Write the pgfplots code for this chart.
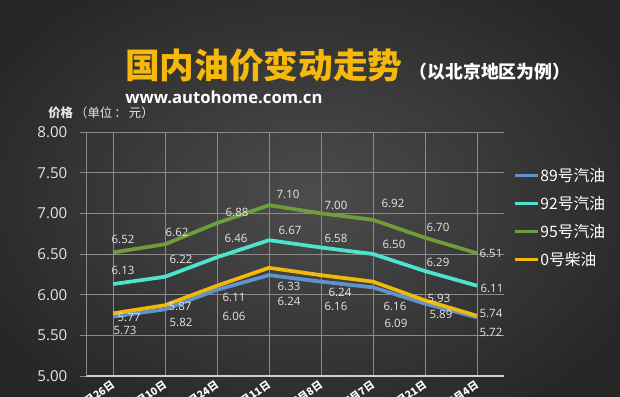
\documentclass[border=0pt]{standalone}
\usepackage{fontspec}
\setmainfont{Open Sans}
\newfontfamily\cjk{Noto Sans CJK SC}
\usepackage{pgfplots}
\pgfplotsset{compat=1.18}
\definecolor{bgin}{HTML}{4C4C4C}
\definecolor{bgout}{HTML}{272727}
\definecolor{c89}{HTML}{5F93CC}
\definecolor{c92}{HTML}{4DE3D0}
\definecolor{c95}{HTML}{6E9E3C}
\definecolor{c0}{HTML}{F2B90C}
\definecolor{ttl}{HTML}{F6B80B}
\definecolor{lbl}{HTML}{E6E6E6}
\definecolor{grd}{HTML}{8A8A8A}
\definecolor{axl}{HTML}{CFCFCF}
\pgfplotsset{
  vlabels/.style={
    line width=2.8pt,
    point meta=y,
    visualization depends on={\thisrow{dx}\as\dx},
    visualization depends on={\thisrow{dy}\as\dy},
    nodes near coords={\pgfmathprintnumber[fixed,fixed zerofill,precision=2]{\pgfplotspointmeta}},
    every node near coord/.append style={anchor=center, inner sep=0pt, text=lbl,
      font=\fontsize{8.6}{9}\selectfont, xshift={\dx*0.75pt}, yshift={\dy*0.75pt}},
  }
}
\begin{document}
\begin{tikzpicture}
\useasboundingbox (0,0) rectangle (465pt,297pt);
\clip (0,0) rectangle (465pt,297pt);
\shade[inner color=bgin, outer color=bgout] (-40pt,-40pt) rectangle (505pt,337pt);
\node[anchor=west, inner sep=0pt, text=ttl] at (93.75pt,248.25pt)
  {\cjk\bfseries\fontsize{26}{26}\selectfont 国内油价变动走势};
\node[anchor=west, inner sep=0pt, text=white] at (307pt,243pt)
  {\cjk\bfseries\fontsize{13.4}{14}\selectfont （以北京地区为例）};
\node[anchor=west, inner sep=0pt, text=white] at (93.75pt,224.25pt)
  {\bfseries\fontsize{12.5}{13}\selectfont www.autohome.com.cn};
\node[anchor=west, inner sep=0pt, text=lbl] at (36pt,212.25pt)
  {\cjk\fontsize{9.3}{10}\selectfont {\bfseries 价格}\,（单位\,：\,元）};
\begin{axis}[
  at={(64.5pt,15pt)}, anchor=south west,
  scale only axis, width=313.5pt, height=183pt,
  xmin=-0.52, xmax=7.52, ymin=5, ymax=8,
  xtick={0,1,2,3,4,5,6,7},
  xticklabels={3月26日,4月10日,4月24日,5月11日,6月8日,7月7日,7月21日,8月4日},
  ytick={5,5.5,6,6.5,7,7.5,8},
  axis x line=bottom, axis y line=left,
  x axis line style={-, draw=axl, line width=1.5pt},
  y axis line style={-, draw=grd, line width=0.7pt},
  xmajorgrids, ymajorgrids,
  major grid style={draw=grd, line width=0.6pt},
  tick align=outside, major tick length=4.5pt,
  xtick style={draw=none},
  ytick style={draw=grd, line width=0.6pt},
  /pgf/number format/assume math mode=true,
  yticklabel style={/pgf/number format/.cd, fixed, fixed zerofill, precision=2,
    /tikz/.cd, text=lbl, font=\fontsize{11.3}{12}\selectfont, xshift=-6pt},
  xticklabel style={text=white, font=\cjk\bfseries\fontsize{7.8}{8}\selectfont,
    rotate=35, anchor=north east, xshift=3pt, yshift=6pt},
  legend style={at={(1.022,0.858)}, anchor=north west, draw=none, fill=none,
    text=white, font=\cjk\fontsize{11.8}{12}\selectfont, row sep=7.5pt,
    inner sep=0pt, nodes={inner sep=1pt}},
  legend cell align=left,
  legend image code/.code={\draw[#1, line width=2.2pt] (0pt,0pt) -- (17pt,0pt);},
  clip=false,
]
\addplot[c89, vlabels] table[x=x,y=y] {
x y dx dy
0 5.73 12 -13.4
1 5.82 16 -12.7
2 6.06 17 -26.2
3 6.24 20 -25.8
4 6.16 15 -24.3
5 6.09 23 -35.7
6 5.89 16 -10.4
7 5.72 14 -14.6
};
\addlegendentry{89号汽油}
\addplot[c92, vlabels] table[x=x,y=y] {
x y dx dy
0 6.13 10 14.1
1 6.22 16 17.8
2 6.46 19 19.3
3 6.67 21 10.2
4 6.58 15 9.5
5 6.50 21 10
6 6.29 13 9.1
7 6.11 15 -2.3
};
\addlegendentry{92号汽油}
\addplot[c95, vlabels] table[x=x,y=y] {
x y dx dy
0 6.52 10 13.4
1 6.62 12 12.2
2 6.88 20 11.1
3 7.10 19 11.2
4 7.00 15 8.3
5 6.92 20 16.8
6 6.70 13 10.7
7 6.51 14 0.2
};
\addlegendentry{95号汽油}
\addplot[c0, vlabels] table[x=x,y=y] {
x y dx dy
0 5.77 16 -4.6
1 5.87 15 -0.8
2 6.11 17 -11.3
3 6.33 20 -18.2
4 6.24 19 -16.8
5 6.16 22 -24.3
6 5.93 14 2.4
7 5.74 14 2.8
};
\addlegendentry{0号柴油}
\end{axis}
\end{tikzpicture}
\end{document}
